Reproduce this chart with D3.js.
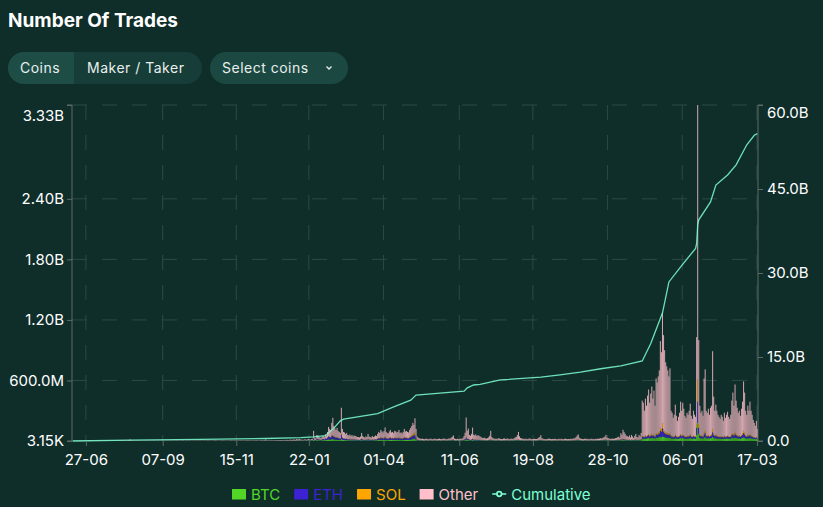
<!DOCTYPE html>
<html>
<head>
<meta charset="utf-8">
<script src="https://cdn.jsdelivr.net/npm/d3@7"></script>
<style>
  body { margin: 0; background: #0f2e2a; }
  #chart svg { display: block; font-family: Inter, "Noto Sans", sans-serif; }
</style>
</head>
<body>
<div id="chart"></div>
<script>
// ---- data (daily number of trades, in millions) ----
const startDate = "2023-06-14";

const btc = [
  0,0,0,0,1,0,0,1,0,1,1,0,1,1,0,1,1,1,0,1,1,1,1,0,1,1,1,1,1,1,
  1,1,1,1,1,0,1,1,1,1,1,1,1,1,1,1,1,1,0,1,1,1,1,1,2,1,1,1,1,1,
  1,1,0,1,1,1,0,1,1,0,1,1,0,1,1,0,1,1,0,1,1,0,1,1,0,1,1,0,1,1,
  0,1,1,0,1,1,0,1,1,0,1,1,0,1,1,0,1,1,0,1,1,1,0,1,1,0,1,1,1,1,
  1,0,1,1,1,1,1,1,1,1,0,1,1,1,1,1,1,0,1,1,1,1,1,1,1,0,1,1,1,1,
  1,1,1,1,1,1,1,1,1,1,1,1,1,1,1,1,1,1,1,1,1,1,1,1,1,1,1,1,1,1,
  1,2,1,1,1,1,1,1,1,1,1,1,1,1,1,1,1,1,1,2,1,2,2,1,2,2,2,2,2,2,3,2,3,3,
  3,4,3,4,5,3,4,5,4,4,5,6,12,6,5,9,8,7,6,6,8,9,7,10,9,
  12,16,14,13,18,20,15,14,12,13,11,10,9,22,12,10,9,8,9,
  7,7,8,6,7,6,7,6,6,5,5,5,6,8,6,5,5,6,5,7,6,5,5,6,5,6,7,6,
  9,10,10,12,11,10,11,13,10,9,9,11,12,10,10,9,11,11,10,10,12,9,10,9,10,12,11,11,10,10,12,14,16,20,
  24,26,14,
  6,5,4,4,3,4,3,3,4,4,3,3,4,4,3,3,4,4,3,3,4,4,
  3,3,4,4,4,3,3,4,4,4,5,6,6,4,3,3,4,3,3,4,4,5,
  6,8,15,8,9,6,5,6,9,6,6,6,5,6,5,5,5,4,4,4,4,4,
  4,5,5,6,5,4,4,3,4,3,4,4,3,3,3,4,4,3,4,4,3,3,
  4,4,3,4,5,5,6,6,5,4,4,4,3,3,4,3,3,4,4,3,3,3,
  4,3,3,4,5,5,6,4,4,3,3,3,3,4,4,3,3,3,3,4,3,3,
  3,4,3,4,3,3,3,4,3,3,3,3,4,3,4,4,4,5,6,7,5,4,
  4,3,3,4,4,3,4,3,3,4,4,3,3,4,3,4,4,4,5,4,5,5,
  6,7,5,5,4,4,4,4,4,4,5,5,6,6,5,8,7,9,8,7,6,6,
  6,7,5,7,6,5,6,8,6,5,7,6,9,
  25,24,22,26,24,28,30,26,28,32,28,30,25,34,32,35,38,40,38,45,
  42,38,35,34,32,30,33,26,25,22,24,28,24,22,24,26,30,26,30,27,24,
  22,25,24,26,30,24,22,26,24,23,60,180,70,30,26,27,24,35,38,
  27,26,28,25,28,29,40,30,26,28,26,24,23,22,24,23,21,25,22,24,
  25,23,22,24,30,32,28,34,30,27,25,26,23,27,30,
  36,32,26,24,28,26,30,26,24,22,20,18,22,16
];

const eth = [
  0,0,0,0,0,0,0,0,0,0,0,0,1,0,0,0,0,1,0,0,0,1,0,0,0,0,1,0,0,1,
  0,0,1,0,0,1,0,0,0,1,0,0,1,0,0,1,0,0,0,1,0,1,0,1,1,1,0,0,0,1,
  0,0,1,0,0,0,1,0,0,1,0,0,0,1,0,0,1,0,0,0,1,0,0,1,0,0,1,0,0,0,
  1,0,0,1,0,0,1,0,0,1,0,0,1,0,0,0,1,0,0,1,0,0,1,0,0,1,0,0,1,0,
  0,1,0,0,1,0,0,1,0,1,0,0,1,0,1,0,0,1,0,1,0,0,1,0,1,0,0,1,0,1,
  1,0,1,0,1,0,1,1,0,1,0,1,1,0,1,0,1,1,0,1,1,0,1,1,0,1,1,1,0,1,
  1,2,1,1,1,1,1,1,1,1,1,1,1,1,1,1,1,1,1,2,1,2,1,1,2,2,1,2,2,2,2,2,2,3,
  2,3,2,3,4,2,3,4,3,3,4,5,15,5,4,12,10,8,6,5,9,10,8,14,12,
  20,28,24,22,30,34,26,24,20,22,18,16,14,40,18,14,13,11,12,
  9,8,10,7,9,7,8,7,6,6,6,5,7,12,8,6,5,7,6,10,7,6,5,8,6,7,9,8,
  12,16,14,20,17,15,18,22,16,14,13,17,20,15,16,14,18,17,15,16,20,14,15,13,16,21,17,18,16,15,20,24,28,32,
  30,36,20,
  5,4,3,3,3,3,2,2,3,3,2,2,3,3,2,2,3,3,2,2,3,3,
  2,2,3,3,3,2,2,3,3,3,4,5,6,3,2,2,3,2,2,3,3,4,
  6,10,20,10,10,6,5,7,9,6,6,6,5,5,5,4,4,3,3,3,3,3,
  3,4,5,7,4,3,3,2,3,2,3,3,2,2,2,3,3,2,3,3,2,2,
  3,3,2,3,4,4,5,6,4,3,3,3,2,2,3,2,2,3,3,2,2,2,
  3,2,2,3,4,4,5,3,3,2,2,2,2,3,3,2,2,2,2,3,2,2,
  2,3,2,3,2,2,2,3,2,2,2,2,3,2,3,3,3,4,5,5,4,3,
  3,2,2,3,3,2,3,2,2,3,3,2,2,3,2,3,3,3,4,3,4,4,
  5,6,4,4,3,3,3,3,3,3,4,4,5,5,4,7,6,8,7,6,5,5,
  4,5,4,5,4,4,5,6,4,4,5,4,7,
  18,16,14,20,16,22,26,18,22,28,20,24,16,30,28,32,36,60,55,80,
  50,40,34,32,30,28,32,20,18,15,17,24,17,14,16,18,26,20,25,21,17,
  15,18,17,20,25,17,15,20,17,16,70,210,60,24,19,20,17,30,40,
  20,18,22,17,22,24,45,30,20,25,20,17,16,15,17,16,14,19,15,17,
  20,16,15,17,28,32,24,38,28,22,19,20,17,22,30,
  40,32,20,17,24,20,28,20,17,14,12,10,14,8
];

const sol = [
  0,0,0,0,0,0,0,0,0,0,0,0,0,0,0,0,0,0,0,0,0,0,0,0,0,0,0,0,0,0,
  0,0,0,0,0,0,0,0,0,0,0,0,0,0,0,0,0,0,0,0,0,0,0,0,1,0,0,0,0,0,
  0,0,0,0,0,0,0,0,0,0,0,0,0,0,0,0,0,0,0,0,0,0,0,0,0,0,0,0,0,0,
  0,0,0,0,0,0,0,0,0,0,0,0,0,0,0,0,0,0,0,0,0,0,0,0,0,0,0,0,0,0,
  0,0,0,0,0,0,0,0,0,0,0,0,0,0,0,0,0,0,0,0,0,0,0,0,0,0,0,0,0,0,
  0,0,0,0,0,0,0,0,0,0,0,0,0,0,1,0,0,0,0,0,0,0,1,0,0,0,0,0,0,0,
  0,1,0,0,0,0,0,0,0,0,0,0,0,0,0,0,0,0,0,0,0,0,0,0,1,0,0,1,0,0,1,1,1,1,
  0,1,0,1,1,0,1,1,1,1,1,1,3,1,1,2,2,1,1,1,2,2,1,2,2,
  3,5,4,4,6,8,5,5,4,4,3,3,3,10,4,3,3,2,3,
  2,2,2,2,2,2,2,2,2,2,2,2,2,3,2,2,2,2,2,3,2,2,2,2,2,3,3,3,
  4,5,5,7,6,5,6,8,6,5,5,6,7,6,6,5,7,6,6,6,8,5,6,5,6,8,7,7,6,6,8,10,14,18,
  20,24,10,
  3,2,2,1,1,1,1,1,1,1,1,1,1,1,1,1,1,1,1,1,1,1,
  1,1,1,1,1,1,1,1,1,1,2,2,3,1,1,1,1,1,1,1,1,2,
  3,4,8,4,5,3,2,3,5,3,3,3,2,2,2,2,2,2,2,2,1,1,
  1,2,2,3,2,1,1,1,1,1,1,1,1,1,1,1,1,1,1,1,1,1,
  1,1,1,1,2,2,2,3,2,1,1,1,1,1,1,1,1,1,1,1,1,1,
  1,1,1,1,2,2,2,1,1,1,1,1,1,1,1,1,1,1,1,1,1,1,
  1,1,1,1,1,1,1,1,1,1,1,1,1,1,1,1,1,2,2,3,2,1,
  1,1,1,1,1,1,1,1,1,1,1,1,1,1,1,1,1,1,2,1,2,2,
  2,3,2,2,1,1,1,1,1,1,2,2,2,2,2,3,3,4,3,3,2,2,
  2,3,2,3,2,2,2,3,2,2,3,2,4,
  8,7,6,9,7,10,12,8,10,14,9,12,7,14,12,16,18,30,25,50,
  25,20,16,15,14,12,15,8,8,6,7,10,7,6,7,8,12,8,11,9,7,
  6,8,7,8,11,7,6,8,7,7,40,220,40,12,9,10,8,20,30,
  9,8,10,7,10,11,35,15,9,12,9,8,7,6,7,7,6,8,6,7,
  8,7,6,7,12,15,10,20,12,9,8,9,7,10,16,
  25,18,9,7,11,9,14,9,7,6,5,4,6,3
];

const other = [
  1,1,2,1,2,2,3,2,2,3,2,3,3,2,3,4,3,2,3,3,2,2,3,3,4,3,3,2,3,3,
  3,2,3,4,3,3,2,3,3,4,3,2,3,3,3,4,3,3,2,3,4,3,4,6,12,5,3,3,2,3,
  3,3,2,3,3,2,2,3,3,2,3,3,2,3,2,2,3,3,2,2,3,2,2,3,2,2,3,2,3,2,
  2,3,2,2,3,2,2,3,3,2,3,2,2,3,3,2,2,3,2,3,3,2,2,3,2,3,3,2,3,3,
  3,2,3,3,2,3,3,4,3,3,2,3,3,3,4,3,3,2,3,3,3,4,3,3,3,2,3,3,4,3,
  3,3,4,3,3,3,4,3,4,4,3,3,4,3,4,4,3,4,4,3,4,4,5,4,4,3,4,5,4,4,
  5,10,5,4,5,4,5,5,4,5,6,5,5,6,5,6,6,5,6,7,6,8,7,6,9,8,7,10,9,8,12,10,11,13,
  7,7,5,6,8,7,7,10,8,6,8,10,70,18,15,37,35,24,22,18,26,29,24,40,32,
  55,91,78,71,126,168,104,82,74,91,68,61,54,258,86,63,60,49,56,
  42,38,45,35,42,30,38,35,31,27,27,23,30,57,34,27,23,30,27,50,30,27,23,34,27,29,36,33,
  45,59,51,71,61,55,65,92,58,52,48,61,71,54,58,52,64,61,54,58,70,52,54,48,58,79,60,64,58,54,70,82,92,110,
  86,139,76,
  30,22,18,15,14,16,13,12,14,15,13,12,14,16,12,13,15,14,12,13,14,15,
  13,12,14,16,15,13,12,14,18,16,22,30,40,18,14,13,15,12,14,16,14,20,
  35,60,190,80,100,45,40,55,110,48,42,50,38,45,40,35,28,22,20,24,18,16,
  20,25,40,85,30,20,18,15,16,14,18,20,15,14,13,16,18,14,15,17,14,13,
  16,15,14,20,25,30,45,75,35,22,18,16,15,14,16,13,14,18,15,13,12,14,
  15,13,14,16,22,28,45,20,15,14,13,12,14,15,16,13,12,14,13,15,14,12,
  13,14,12,15,13,12,14,16,13,12,14,13,15,14,16,18,20,28,40,50,22,16,
  14,13,12,14,15,13,14,12,13,15,14,13,12,14,13,15,14,16,18,15,20,25,
  30,45,22,18,16,15,14,16,15,14,18,20,25,30,22,60,45,90,70,55,40,35,
  28,40,24,45,33,19,37,53,28,24,45,33,60,
  349,333,258,365,303,390,442,328,410,466,363,434,302,542,508,557,608,860,762,1095,
  933,802,695,659,624,570,640,246,229,187,212,298,202,158,193,228,322,246,314,263,202,
  187,229,212,246,304,202,177,246,212,194,860,2720,830,284,226,243,201,535,602,
  244,228,260,211,270,286,770,365,245,295,245,211,194,177,212,194,159,228,187,212,
  237,194,177,212,330,401,288,468,330,272,228,245,203,261,314,
  489,398,245,212,287,245,318,245,212,168,143,118,158,93
];

// cumulative number of trades (billions), read at these day offsets from startDate
const cumulativeDay = [0,54,120,181,214,226,237,245,251,254,286,301,317,322,367,370,376,382,401,439,
  457,476,495,514,534,542,553,559,570,584,585,586,587,598,603,614,622,632,639,642];
const cumulativeValue = [0,0.15,0.3,0.45,0.6,0.75,0.95,2.3,3.6,3.9,4.9,6.1,7.3,8.2,8.9,9.5,10.0,10.1,10.9,11.4,
  11.8,12.3,12.9,13.4,14.3,17.4,22.9,28.4,31.1,34.4,35.3,38.6,39.5,42.7,45.7,47.5,49.3,52.9,54.6,54.9];

const xTickDates = ["2023-06-27","2023-09-07","2023-11-15","2024-01-22","2024-04-01",
  "2024-06-11","2024-08-19","2024-10-28","2025-01-06","2025-03-17"];
const leftTicks = [3150, 600e6, 1.2e9, 1.8e9, 2.4e9, 3.33e9];
const leftTickLabels = ["3.15K","600.0M","1.20B","1.80B","2.40B","3.33B"];
const rightTicks = [0, 15e9, 30e9, 45e9, 60e9];
const rightTickLabels = ["0.0","15.0B","30.0B","45.0B","60.0B"];

const seriesKeys = ["BTC","ETH","SOL","Other"];
const seriesColors = ["#52d726","#3c22d2","#ffa500","#ffc0cb"];
const cumulativeColor = "#7fffd4";

class TradesChart {
  constructor(_config, _data) {
    this.config = {
      parentElement: _config.parentElement,
      containerWidth: 823,
      containerHeight: 507,
      margin: { top: 105, right: 65, bottom: 66, left: 72 },
    };
    this.data = _data;
    this.initVis();
  }

  initVis() {
    let vis = this;
    vis.width = vis.config.containerWidth - vis.config.margin.left - vis.config.margin.right;
    vis.height = vis.config.containerHeight - vis.config.margin.top - vis.config.margin.bottom;

    vis.svg = d3.select(vis.config.parentElement).append("svg")
      .attr("width", vis.config.containerWidth)
      .attr("height", vis.config.containerHeight);

    vis.svg.append("rect")
      .attr("width", vis.config.containerWidth)
      .attr("height", vis.config.containerHeight)
      .attr("fill", "#0f2e2a");

    // header: title + toggle buttons
    vis.svg.append("text")
      .attr("x", 8).attr("y", 27)
      .attr("fill", "#ffffff")
      .attr("font-size", 19).attr("font-weight", 700)
      .text("Number Of Trades");

    const btns = vis.svg.append("g").attr("font-size", 14).attr("fill", "#e8efed");
    btns.append("rect").attr("x", 8).attr("y", 52).attr("width", 194).attr("height", 32)
      .attr("rx", 16).attr("fill", "#163d37");
    btns.append("path")
      .attr("d", "M74,52 H24 A16,16 0 0 0 24,84 H74 Z")
      .attr("fill", "#1e4d46");
    btns.append("text").attr("x", 20).attr("y", 73).attr("letter-spacing", 0.5).text("Coins");
    btns.append("text").attr("x", 87).attr("y", 73).attr("letter-spacing", 0.5).text("Maker / Taker");
    btns.append("rect").attr("x", 210).attr("y", 52).attr("width", 138).attr("height", 32)
      .attr("rx", 16).attr("fill", "#1b4942");
    btns.append("text").attr("x", 222).attr("y", 73).attr("letter-spacing", 0.5).text("Select coins");
    btns.append("path").attr("d", "M326.5,66.5 L329,69 L331.5,66.5")
      .attr("fill", "none").attr("stroke", "#e8efed").attr("stroke-width", 1.3);

    vis.chart = vis.svg.append("g")
      .attr("transform", `translate(${vis.config.margin.left},${vis.config.margin.top})`);

    const t0 = d3.utcParse("%Y-%m-%d")(startDate);
    vis.dayToDate = (i) => d3.utcDay.offset(t0, i);
    vis.xScale = d3.scaleUtc()
      .domain([t0, vis.dayToDate(643)])
      .range([0, vis.width]);
    vis.yLeft = d3.scaleLinear().domain([0, 3.33e9]).range([vis.height, 0]);
    vis.yRight = d3.scaleLinear().domain([0, 60e9]).range([vis.height, 0]);

    vis.updateVis();
  }

  updateVis() {
    let vis = this;
    vis.stacked = d3.stack().keys(seriesKeys)(vis.data.days);
    vis.renderVis();
  }

  renderVis() {
    let vis = this;
    const parse = d3.utcParse("%Y-%m-%d");
    const gridColor = "#2a4a45";
    const axisColor = "#5e6a67";

    // grid
    vis.chart.append("g").selectAll("line")
      .data(leftTicks.slice(1))
      .join("line")
      .attr("x1", 0).attr("x2", vis.width)
      .attr("y1", d => vis.yLeft(d)).attr("y2", d => vis.yLeft(d))
      .attr("stroke", gridColor).attr("stroke-dasharray", "15,15");
    vis.chart.append("g").selectAll("line")
      .data(xTickDates)
      .join("line")
      .attr("x1", d => vis.xScale(parse(d))).attr("x2", d => vis.xScale(parse(d)))
      .attr("y1", 0).attr("y2", vis.height)
      .attr("stroke", gridColor).attr("stroke-dasharray", "15,15");

    // stacked daily bars
    const barW = vis.xScale(vis.dayToDate(1)) - vis.xScale(vis.dayToDate(0));
    vis.chart.append("g").selectAll("g")
      .data(vis.stacked)
      .join("g")
      .attr("fill", (d, i) => seriesColors[i])
      .attr("fill-opacity", 0.82)
      .selectAll("rect")
      .data(d => d)
      .join("rect")
      .attr("x", d => vis.xScale(d.data.date))
      .attr("width", barW * 0.95)
      .attr("y", d => vis.yLeft(d[1]))
      .attr("height", d => Math.max(0, vis.yLeft(d[0]) - vis.yLeft(d[1])));

    // cumulative line
    const line = d3.line()
      .x(d => vis.xScale(d.date) + barW / 2)
      .y(d => vis.yRight(d.value));
    vis.chart.append("path")
      .datum(vis.data.cumulative)
      .attr("d", line)
      .attr("fill", "none")
      .attr("stroke", cumulativeColor)
      .attr("stroke-opacity", 0.85)
      .attr("stroke-width", 1.3);

    // axes
    const leftAxis = d3.axisLeft(vis.yLeft)
      .tickValues(leftTicks).tickSize(5).tickPadding(3)
      .tickFormat((d, i) => leftTickLabels[i]);
    const gl = vis.chart.append("g").call(leftAxis);

    const rightAxis = d3.axisRight(vis.yRight)
      .tickValues(rightTicks).tickSize(5).tickPadding(4)
      .tickFormat((d, i) => rightTickLabels[i]);
    const gr = vis.chart.append("g").attr("transform", `translate(${vis.width},0)`).call(rightAxis);

    const bottomAxis = d3.axisBottom(vis.xScale)
      .tickValues(xTickDates.map(parse)).tickSize(5).tickPadding(8)
      .tickFormat(d3.utcFormat("%d-%m"));
    const gb = vis.chart.append("g").attr("transform", `translate(0,${vis.height})`).call(bottomAxis);

    [gl, gr, gb].forEach(g => {
      g.select(".domain").attr("stroke", axisColor);
      g.selectAll(".tick line").attr("stroke", axisColor);
      g.selectAll("text").attr("fill", "#ffffff").attr("font-size", 15)
        .attr("font-family", "Inter, 'Noto Sans', sans-serif");
    });
    gl.select(".domain").attr("d", `M-5,0H0V${vis.height}H-5`);
    gr.select(".domain").attr("d", `M5,0H0V${vis.height}H5`);
    gb.select(".domain").remove();
    // top labels sit just below their tick
    gl.selectAll(".tick text").filter(d => d === leftTicks[leftTicks.length - 1]).attr("dy", "1.0em");
    gr.selectAll(".tick text").filter(d => d === rightTicks[rightTicks.length - 1]).attr("dy", "0.85em");

    // legend
    const legend = vis.svg.append("g").attr("font-size", 15);
    const items = seriesKeys.map((k, i) => ({ key: k, color: seriesColors[i], type: "rect" }))
      .concat([{ key: "Cumulative", color: cumulativeColor, type: "line" }]);
    let lx = 0;
    const ly = 494;
    items.forEach(it => {
      const g = legend.append("g").attr("transform", `translate(${lx},0)`);
      if (it.type === "rect") {
        g.append("rect").attr("x", 0).attr("y", ly - 5).attr("width", 14).attr("height", 10.5)
          .attr("fill", it.color);
      } else {
        g.append("path").attr("d", `M0,${ly}H4.7M9.3,${ly}H14`)
          .attr("stroke", it.color).attr("stroke-width", 1.7);
        g.append("circle").attr("cx", 7).attr("cy", ly).attr("r", 2.3)
          .attr("fill", "none").attr("stroke", it.color).attr("stroke-width", 1.7);
      }
      const txt = g.append("text").attr("x", 19).attr("y", ly + 5.5)
        .attr("fill", it.color).text(it.key);
      lx += 19 + txt.node().getComputedTextLength() + 14;
    });
    const legendW = lx - 14;
    legend.attr("transform", `translate(${Math.round(411 - legendW / 2)},0)`);
  }
}

const days = other.map((v, i) => ({
  date: d3.utcDay.offset(d3.utcParse("%Y-%m-%d")(startDate), i),
  BTC: (btc[i] || 0) * 1e6,
  ETH: (eth[i] || 0) * 1e6,
  SOL: (sol[i] || 0) * 1e6,
  Other: v * 1e6,
}));
const cumulative = cumulativeDay.map((d, i) => ({
  date: d3.utcDay.offset(d3.utcParse("%Y-%m-%d")(startDate), d),
  value: cumulativeValue[i] * 1e9,
}));

new TradesChart({ parentElement: "#chart" }, { days: days, cumulative: cumulative });
</script>
</body>
</html>
